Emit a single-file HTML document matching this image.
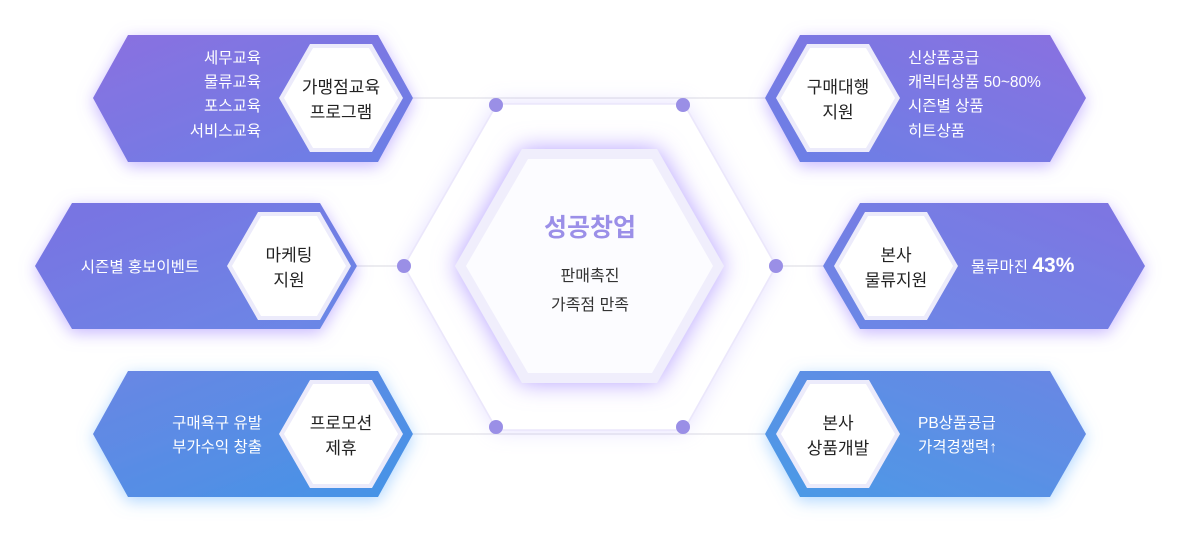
<!DOCTYPE html>
<html><head><meta charset="utf-8"><style>
body{margin:0;background:#fff;}
svg text{font-family:"Liberation Sans","Noto Sans CJK KR",sans-serif;}
</style></head><body>
<svg width="1179" height="534" viewBox="0 0 1179 534" xmlns="http://www.w3.org/2000/svg">
<defs>
<linearGradient id="gT" x1="0" y1="0" x2="1" y2="1"><stop offset="0" stop-color="#8a70e0"/><stop offset="1" stop-color="#6a80e6"/></linearGradient>
<linearGradient id="gTR" x1="1" y1="0" x2="0" y2="1"><stop offset="0" stop-color="#8a70e0"/><stop offset="1" stop-color="#6a80e6"/></linearGradient>
<linearGradient id="gM" x1="0" y1="0" x2="1" y2="1"><stop offset="0" stop-color="#7a72e2"/><stop offset="1" stop-color="#6a88e6"/></linearGradient>
<linearGradient id="gMR" x1="1" y1="0" x2="0" y2="1"><stop offset="0" stop-color="#7f74e2"/><stop offset="1" stop-color="#6a88e6"/></linearGradient>
<linearGradient id="gB" x1="0" y1="0" x2="1" y2="1"><stop offset="0" stop-color="#6a86e4"/><stop offset="1" stop-color="#4494e6"/></linearGradient>
<linearGradient id="gBR" x1="1" y1="0" x2="0" y2="1"><stop offset="0" stop-color="#6a86e4"/><stop offset="1" stop-color="#4a9ae6"/></linearGradient>
<filter id="glowP" x="-20%" y="-30%" width="140%" height="160%"><feDropShadow dx="0" dy="4" stdDeviation="8" flood-color="#9a7cff" flood-opacity="0.55"/></filter>
<filter id="glowB" x="-20%" y="-30%" width="140%" height="160%"><feDropShadow dx="0" dy="4" stdDeviation="8" flood-color="#6cb4ff" flood-opacity="0.55"/></filter>
<filter id="glowC" x="-30%" y="-30%" width="160%" height="160%"><feDropShadow dx="0" dy="0" stdDeviation="12" flood-color="#9c80ff" flood-opacity="0.75"/></filter>
<filter id="glowBig" x="-20%" y="-20%" width="140%" height="140%"><feDropShadow dx="0" dy="0" stdDeviation="10" flood-color="#c8bcff" flood-opacity="0.45"/></filter>
</defs>

<g stroke="#d9d9e2" stroke-width="1">
<line x1="413" y1="98" x2="765" y2="98"/>
<line x1="357" y1="266" x2="823" y2="266"/>
<line x1="413" y1="434" x2="765" y2="434"/>
</g>

<polygon points="404,266 497,104 684,104 776,266 684,430 497,430" fill="#fff" stroke="#eeeafc" stroke-width="2" filter="url(#glowBig)"/>
<polygon points="404,266 497,104 684,104 776,266 684,430 497,430" fill="#fff" stroke="#ebe7fb" stroke-width="1.5"/>

<polygon points="455,266 522,149 657,149 724,266 657,383 522,383" fill="#f0eefc" filter="url(#glowC)"/>
<polygon points="466,266 528,159 652,159 713,266 652,373 528,373" fill="#fcfcff"/>
<text x="590" y="236" text-anchor="middle" font-size="25" font-weight="bold" fill="#9b8fe8">성공창업</text>
<text x="590" y="281" text-anchor="middle" font-size="16" fill="#333">판매촉진</text>
<text x="590" y="310" text-anchor="middle" font-size="16" fill="#333">가족점 만족</text>

<g fill="#9a8fe6">
<circle cx="496" cy="105" r="7"/><circle cx="683" cy="105" r="7"/>
<circle cx="404" cy="266" r="7"/><circle cx="776" cy="266" r="7"/>
<circle cx="496" cy="427" r="7"/><circle cx="683" cy="427" r="7"/>
</g>

<polygon points="93,98 128,35 378,35 413,98 378,162 128,162" fill="url(#gT)" filter="url(#glowP)"/>
<polygon points="35,266 72,203 320,203 357,266 320,329 72,329" fill="url(#gM)" filter="url(#glowP)"/>
<polygon points="93,434 128,371 378,371 413,434 378,497 128,497" fill="url(#gB)" filter="url(#glowB)"/>
<polygon points="765,98 800,35 1050,35 1086,98 1050,162 800,162" fill="url(#gTR)" filter="url(#glowP)"/>
<polygon points="823,266 860,203 1108,203 1145,266 1108,329 860,329" fill="url(#gMR)" filter="url(#glowP)"/>
<polygon points="765,434 800,371 1050,371 1086,434 1050,497 800,497" fill="url(#gBR)" filter="url(#glowB)"/>

<g fill="#ecebfb">
<polygon points="279,98 310,44 372,44 403,98 372,152 310,152"/>
<polygon points="227,266 258,212 320,212 351,266 320,320 258,320"/>
<polygon points="279,434 310,380 372,380 403,434 372,488 310,488"/>
<polygon points="776,98 807,44 869,44 900,98 869,152 807,152"/>
<polygon points="834,266 865,212 927,212 958,266 927,320 865,320"/>
<polygon points="776,434 807,380 869,380 900,434 869,488 807,488"/>
</g>
<g fill="#fff">
<polygon points="284,98 313,48 369,48 398,98 369,148 313,148"/>
<polygon points="232,266 261,216 317,216 346,266 317,316 261,316"/>
<polygon points="284,434 313,384 369,384 398,434 369,484 313,484"/>
<polygon points="781,98 810,48 866,48 895,98 866,148 810,148"/>
<polygon points="839,266 868,216 924,216 953,266 924,316 868,316"/>
<polygon points="781,434 810,384 866,384 895,434 866,484 810,484"/>
</g>

<g font-size="17" fill="#222" text-anchor="middle">
<text x="341" y="93">가맹점교육</text><text x="341" y="118">프로그램</text>
<text x="289" y="261">마케팅</text><text x="289" y="286">지원</text>
<text x="341" y="429">프로모션</text><text x="341" y="454">제휴</text>
<text x="838" y="93">구매대행</text><text x="838" y="118">지원</text>
<text x="896" y="261">본사</text><text x="896" y="286">물류지원</text>
<text x="838" y="429">본사</text><text x="838" y="454">상품개발</text>
</g>

<g font-size="15.5" fill="#fff">
<g text-anchor="end">
<text x="261" y="63">세무교육</text><text x="261" y="87">물류교육</text><text x="261" y="111">포스교육</text><text x="261" y="136">서비스교육</text>
<text x="262" y="428">구매욕구 유발</text><text x="262" y="452">부가수익 창출</text>
</g>
<text x="140" y="272" text-anchor="middle">시즌별 홍보이벤트</text>
<text x="908" y="63">신상품공급</text><text x="908" y="87">캐릭터상품 50~80%</text><text x="908" y="111">시즌별 상품</text><text x="908" y="136">히트상품</text>
<text x="971" y="272">물류마진 <tspan font-size="21" font-weight="bold">43%</tspan></text>
<text x="918" y="428">PB상품공급</text><text x="918" y="452">가격경쟁력↑</text>
</g>
</svg>
</body></html>
